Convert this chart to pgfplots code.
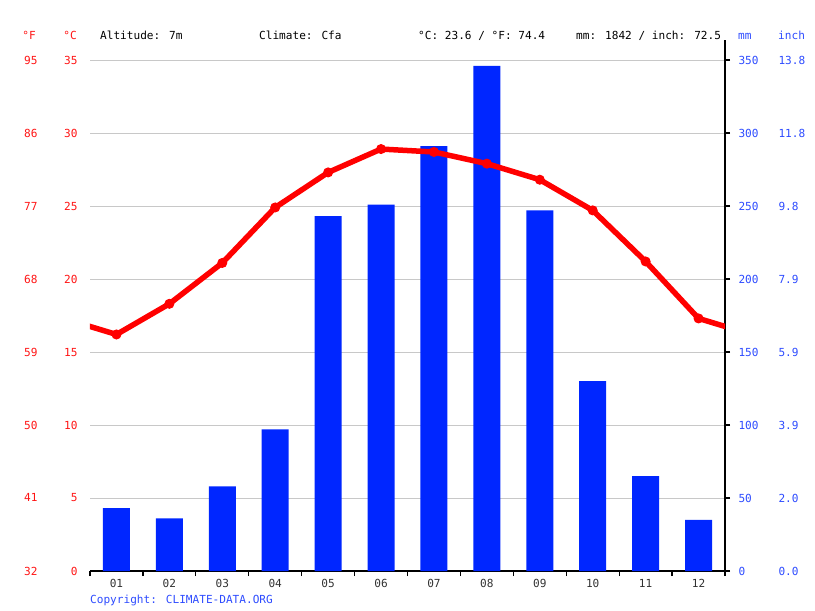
\documentclass[border=0pt]{standalone}
\usepackage{fontspec}
\setmainfont{DejaVu Sans Mono}
\usepackage{pgfplots}
\usepackage{pgfplotstable}
\pgfplotsset{compat=1.18}
\definecolor{barblue}{RGB}{0,38,255}
\definecolor{tblue}{RGB}{45,75,255}
\definecolor{tred}{RGB}{255,20,20}
\definecolor{lred}{RGB}{255,0,0}
\definecolor{gridgray}{RGB}{200,200,200}
\definecolor{labgray}{RGB}{50,50,50}
\pgfplotstableread{
month mm
1 43
2 36
3 58
4 97
5 243
6 251
7 291
8 346
9 247
10 130
11 65
12 35
}\prec
\pgfplotstableread{
month temp
0 17.3
1 16.2
2 18.3
3 21.1
4 24.9
5 27.3
6 28.9
7 28.7
8 27.9
9 26.8
10 24.7
11 21.2
12 17.3
13 16.2
}\temps
\begin{document}
\begin{tikzpicture}[every node/.style={font=\fontsize{11.1bp}{13bp}\selectfont}]
\begin{axis}[
  at={(0,0)}, anchor=south west,
  scale only axis, width=635bp, height=511bp,
  xmin=0.5, xmax=12.5, ymin=0, ymax=350,
  axis x line*=bottom, axis y line*=right,
  axis line style={black, line width=1.3bp},
  xtick={1,...,12},
  xticklabels={01,02,03,04,05,06,07,08,09,10,11,12},
  minor xtick={0.5,1.5,...,12.5},
  major x tick style={draw=none},
  minor x tick style={black, line width=1.2bp},
  y tick style={black, line width=1.2bp},
  tick align=outside,
  major tick length=5bp, minor tick length=5bp,
  xticklabel style={text=labgray, font=\fontsize{11.1bp}{13bp}\selectfont},
  ytick={0,50,...,350},
  scaled y ticks=false,
  /pgf/number format/assume math mode=true,
  yticklabel={\makebox[40bp][l]{\pgfmathprintnumber{\tick}}\pgfmathparse{\tick/25.4}\pgfmathprintnumber[fixed,fixed zerofill,precision=1]{\pgfmathresult}},
  yticklabel style={anchor=west, text=tblue, xshift=5bp, font=\fontsize{11.1bp}{13bp}\selectfont},
  ymajorgrids, grid style={gridgray, line width=0.9bp},
]
\addplot[ybar, bar width=27bp, bar shift=0pt, fill=barblue, draw=none] table[x=month, y=mm] {\prec};
\end{axis}
\begin{axis}[
  at={(0,0)}, anchor=south west,
  scale only axis, width=635bp, height=511bp,
  xmin=0.5, xmax=12.5, ymin=0, ymax=35,
  axis x line=none, axis y line*=left,
  axis line style={draw=none},
  y tick style={draw=none},
  ytick={0,5,...,35},
  /pgf/number format/assume math mode=true,
  yticklabel={\pgfmathparse{\tick*1.8+32}\makebox[20bp][r]{\pgfmathprintnumber[fixed,precision=0]{\pgfmathresult}}\makebox[40bp][r]{\pgfmathprintnumber{\tick}}},
  yticklabel style={anchor=east, text=tred, xshift=-9bp, font=\fontsize{11.1bp}{13bp}\selectfont},
]
\addplot[lred, line width=5.5bp] table[x=month, y=temp] {\temps};
\addplot[lred, only marks, mark=*, mark size=4.5bp, mark options={solid, fill=lred, draw=lred, line width=1bp}, restrict x to domain=1:12] table[x=month, y=temp] {\temps};
\end{axis}
\draw[black, line width=1.3bp] (635bp,511bp) -- (635bp,531bp);
\node[anchor=base east, text=tred, inner sep=0pt] at (-54bp,531bp) {°F};
\node[anchor=base east, text=tred, inner sep=0pt] at (-13bp,531bp) {°C};
\node[anchor=base west, text=tblue, inner sep=0pt] at (648bp,531bp) {mm};
\node[anchor=base west, text=tblue, inner sep=0pt] at (688bp,531bp) {inch};
\node[anchor=base west, inner sep=0pt] at (10bp,531bp) {Altitude: 7m};
\node[anchor=base west, inner sep=0pt] at (169bp,531bp) {Climate: Cfa};
\node[anchor=base west, inner sep=0pt] at (328bp,531bp) {°C: 23.6 / °F: 74.4};
\node[anchor=base west, inner sep=0pt] at (486bp,531bp) {mm: 1842 / inch: 72.5};
\node[anchor=base west, inner sep=0pt, text=tblue] at (0bp,-32bp) {Copyright: CLIMATE-DATA.ORG};
\pgfresetboundingbox
\path[use as bounding box] (-90bp,-40bp) rectangle (725bp,571bp);
\end{tikzpicture}
\end{document}
